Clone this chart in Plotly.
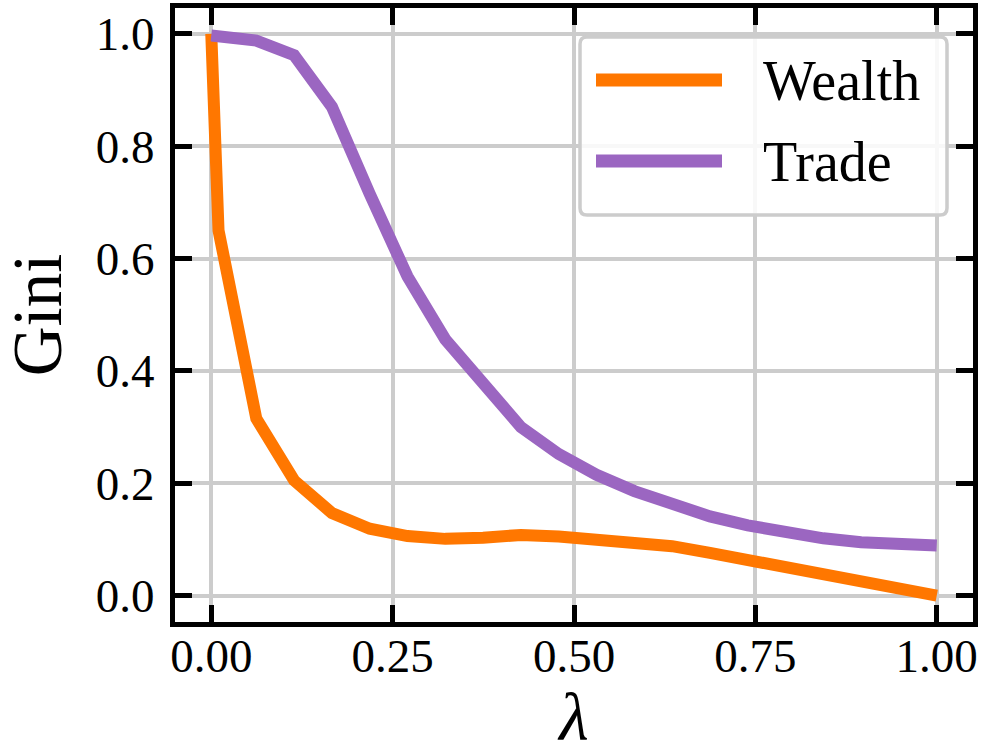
import plotly.graph_objects as go

lam = [0.0, 0.01, 0.0621, 0.1142, 0.1663, 0.2184, 0.2705, 0.3226, 0.3747, 0.4268,
       0.4789, 0.5311, 0.5832, 0.6353, 0.6874, 0.7395, 0.7916, 0.8437, 0.8958, 0.9479, 1.0]
wealth = [1.0, 0.65, 0.315, 0.205, 0.147, 0.119, 0.106, 0.101, 0.103, 0.108,
          0.105, 0.101, 0.095, 0.088, 0.076, 0.063, 0.051, 0.038, 0.025, 0.013, 0.0]
trade = [0.997, 0.996, 0.988, 0.962, 0.870, 0.715, 0.568, 0.456, 0.377, 0.300,
         0.252, 0.215, 0.186, 0.161, 0.141, 0.125, 0.112, 0.102, 0.095, 0.091, 0.089]

series_names = ["Wealth", "Trade"]
colors = ["#ff7700", "#9b66c1"]
xticks = [0.0, 0.25, 0.5, 0.75, 1.0]
xticklabels = ["0.00", "0.25", "0.50", "0.75", "1.00"]
yticks = [0.0, 0.2, 0.4, 0.6, 0.8, 1.0]
yticklabels = ["0.0", "0.2", "0.4", "0.6", "0.8", "1.0"]

FONT = "Liberation Serif, Times New Roman, serif"

fig = go.Figure()
for name, ys, c in zip(series_names, [wealth, trade], colors):
    fig.add_trace(go.Scatter(x=lam, y=ys, mode="lines", name=name,
                             line=dict(color=c, width=12), showlegend=False))

W, H = 987, 755
L, R, T, B = 175, 14, 8, 133
pw, ph = W - L - R, H - T - B

def px(x):
    return (x - L) / pw

def py(y):
    return (H - B - y) / ph

# custom legend (rounded box, long line samples, text)
x0, x1, y0, y1 = px(580), px(947), py(215), py(37)
rx, ry = 7 / pw, 7 / ph
path = (f"M{x0+rx},{y0} L{x1-rx},{y0} Q{x1},{y0} {x1},{y0+ry} "
        f"L{x1},{y1-ry} Q{x1},{y1} {x1-rx},{y1} L{x0+rx},{y1} "
        f"Q{x0},{y1} {x0},{y1-ry} L{x0},{y0+ry} Q{x0},{y0} {x0+rx},{y0} Z")
shapes = [dict(type="path", path=path, xref="paper", yref="paper",
               fillcolor="rgba(255,255,255,0.85)", line=dict(color="#cccccc", width=3.5),
               layer="above")]
annotations = []
for i, (name, c) in enumerate(zip(series_names, colors)):
    yc = 80 + i * 81
    shapes.append(dict(type="line", xref="paper", yref="paper",
                       x0=px(596), x1=px(722), y0=py(yc), y1=py(yc),
                       line=dict(color=c, width=13), layer="above"))
    annotations.append(dict(text=name, xref="paper", yref="paper",
                            x=px(761), y=py(yc + 1), xanchor="left", yanchor="middle",
                            showarrow=False, font=dict(family=FONT, size=56, color="black")))

axis_common = dict(
    showline=True, linecolor="black", linewidth=5, mirror="allticks",
    ticks="inside", ticklen=17, tickwidth=4.5, tickcolor="black",
    showgrid=True, gridcolor="#cccccc", gridwidth=3.5, zeroline=False,
    automargin=False,
)

fig.update_layout(
    width=W, height=H,
    margin=dict(l=L, r=R, t=T, b=B, pad=0),
    paper_bgcolor="white", plot_bgcolor="white",
    xaxis=dict(range=[-0.05, 1.05], tickvals=xticks, ticktext=xticklabels,
               tickfont=dict(family=FONT, size=47, color="black"),
               title=dict(text="<i>λ</i>", font=dict(family=FONT, size=68, color="black"), standoff=14),
               ticklabelstandoff=-11, **axis_common),
    yaxis=dict(range=[-0.047, 1.046], tickvals=yticks, ticktext=yticklabels,
               tickfont=dict(family=FONT, size=47, color="black"),
               title=dict(text="Gini", font=dict(family=FONT, size=69, color="black"), standoff=14),
               ticklabelstandoff=6, **axis_common),
    shapes=shapes,
    annotations=annotations,
)

fig.write_html("out.html", config={"displayModeBar": False},
               post_script="document.body.style.margin='0';")
